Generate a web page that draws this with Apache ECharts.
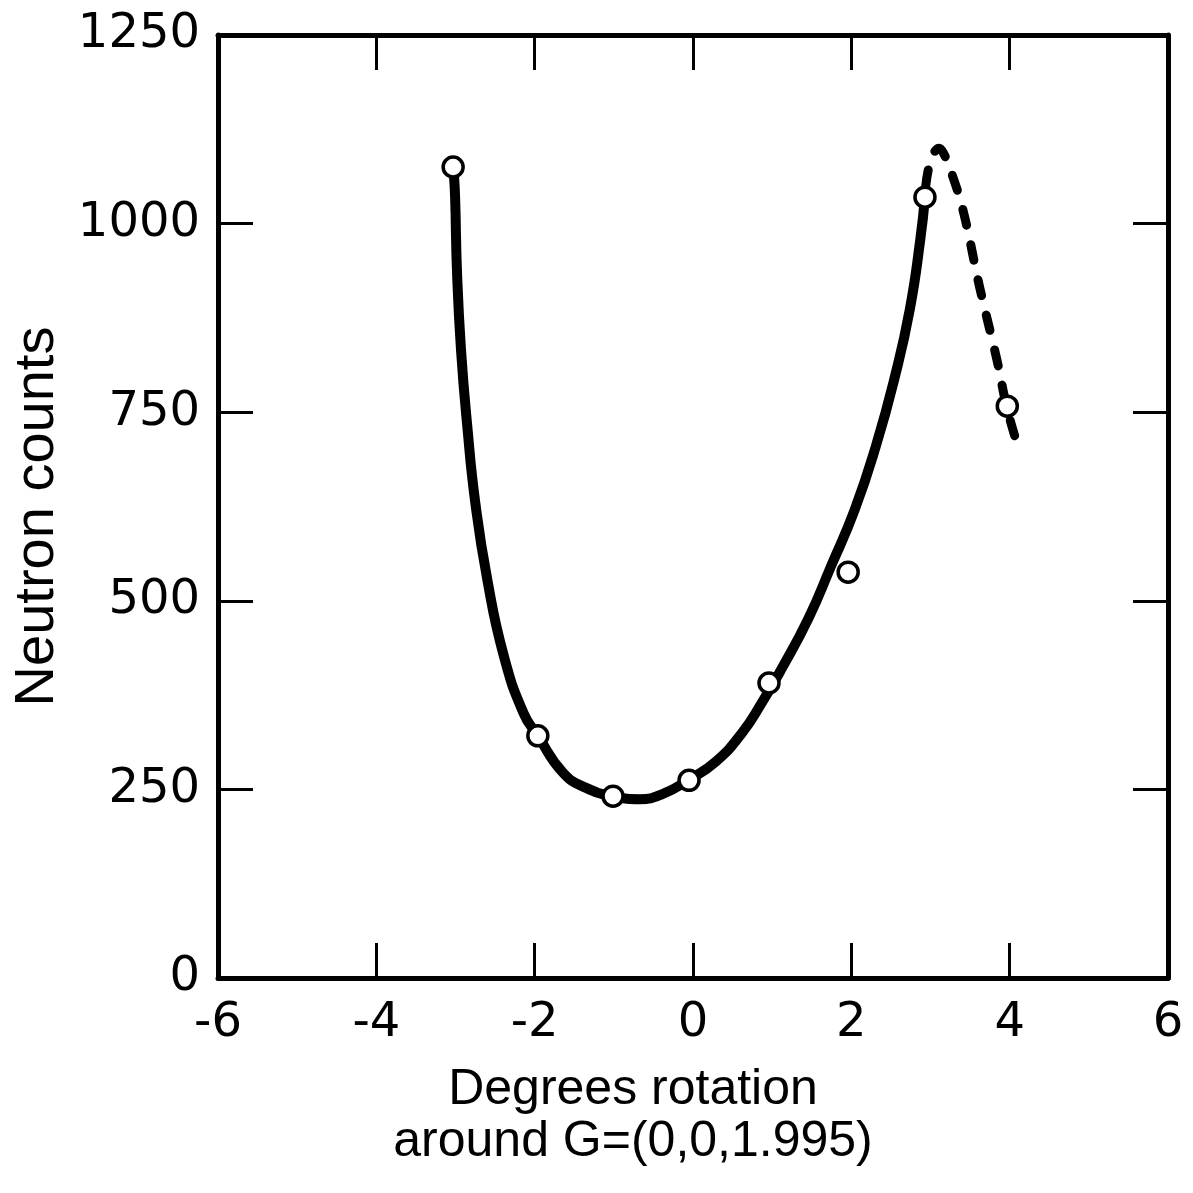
<!DOCTYPE html>
<html>
<head>
<meta charset="utf-8">
<script src="https://cdn.jsdelivr.net/npm/echarts@6/dist/echarts.min.js"></script>
<style>
html,body{margin:0;padding:0;background:#fff;}
#c{width:1193px;height:1193px;}
</style>
</head>
<body>
<div id="c"></div>
<script>
// Measured points (open circles)
const pointX = [-3.03, -1.96, -1.01, -0.05, 0.96, 1.96, 2.93, 3.97];
const pointY = [1075, 321, 241, 262, 391, 538, 1035, 758];

// Solid fitted curve
const solidX = [-3.02, -3.005, -2.98, -2.93, -2.85, -2.75, -2.60, -2.39, -2.14, -1.96, -1.64, -1.35, -1.01, -0.67, -0.38, -0.05, 0.29, 0.62, 0.87, 1.12, 1.46, 1.74, 2.04, 2.31, 2.55, 2.74, 2.87, 2.93];
const solidY = [1065, 1035, 933, 832, 730, 630, 529, 427, 351, 321, 272, 252, 241, 237, 244, 263, 287, 325, 365, 410, 477, 545, 620, 705, 797, 887, 978, 1035];

// Dashed extension
const dashX = [2.94, 2.98, 3.05, 3.11, 3.17, 3.24, 3.41, 3.62, 3.84, 3.96, 4.08];
const dashY = [1050, 1075, 1095, 1100, 1092, 1075, 1018, 916, 819, 758, 713];

const xTicks = [-6, -4, -2, 0, 2, 4, 6];
const yTicks = [0, 250, 500, 750, 1000, 1250];

const xTitle = 'Degrees rotation\naround G=(0,0,1.995)';
const yTitle = 'Neutron counts';

const zip = (a, b) => a.map((v, i) => [v, b[i]]);

const chart = echarts.init(document.getElementById('c'), null, {renderer: 'canvas'});
const tickFont = {fontFamily: 'DejaVu Sans', fontSize: 48, color: '#000'};
const nameFont = "'Liberation Sans', Arial, sans-serif";
const lineAxis = {show: true, onZero: false, lineStyle: {color: '#000', width: 5}};
const tickIn = {show: true, inside: true, length: 35, lineStyle: {color: '#000', width: 3}};

chart.setOption({
  backgroundColor: '#fff',
  animation: false,
  grid: {left: 218, top: 35, right: 25, bottom: 215, containLabel: false, outerBoundsMode: 'none'},
  xAxis: [{
    type: 'value', min: xTicks[0], max: xTicks[xTicks.length - 1], interval: 2,
    position: 'bottom',
    axisLine: lineAxis, axisTick: tickIn,
    axisLabel: {show: true, margin: 22, ...tickFont, formatter: v => String(v)},
    splitLine: {show: false},
    name: xTitle, nameLocation: 'middle', nameGap: 86,
    nameTextStyle: {fontFamily: nameFont, fontSize: 50, color: '#000', lineHeight: 52, padding: [0, 120, 0, 0]}
  }, {
    type: 'value', min: xTicks[0], max: xTicks[xTicks.length - 1], interval: 2,
    position: 'top',
    axisLine: lineAxis, axisTick: tickIn,
    axisLabel: {show: false},
    splitLine: {show: false}
  }],
  yAxis: [{
    type: 'value', min: yTicks[0], max: yTicks[yTicks.length - 1], interval: 250,
    position: 'left',
    axisLine: lineAxis, axisTick: tickIn,
    axisLabel: {show: true, margin: 18, ...tickFont, formatter: v => String(v)},
    splitLine: {show: false},
    name: yTitle, nameLocation: 'middle', nameGap: 152, nameRotate: 90,
    nameTextStyle: {fontFamily: nameFont, fontSize: 56, color: '#000', padding: [0, 20, 0, 0]}
  }, {
    type: 'value', min: yTicks[0], max: yTicks[yTicks.length - 1], interval: 250,
    position: 'right',
    axisLine: lineAxis, axisTick: tickIn,
    axisLabel: {show: false},
    splitLine: {show: false}
  }],
  series: [{
    type: 'line', xAxisIndex: 0, yAxisIndex: 0,
    data: zip(solidX, solidY), smooth: 0.5, symbol: 'none',
    lineStyle: {color: '#000', width: 10, cap: 'round', join: 'round'}, z: 2
  }, {
    type: 'line', xAxisIndex: 0, yAxisIndex: 0,
    data: zip(dashX, dashY), smooth: 0.4, symbol: 'none',
    lineStyle: {color: '#000', width: 9, type: [16, 20], cap: 'round', join: 'round'}, z: 2
  }, {
    type: 'scatter', xAxisIndex: 0, yAxisIndex: 0,
    data: zip(pointX, pointY), symbol: 'circle', symbolSize: 20,
    itemStyle: {color: '#fff', borderColor: '#000', borderWidth: 3.5, opacity: 1}, z: 5
  }]
});
</script>
</body>
</html>
